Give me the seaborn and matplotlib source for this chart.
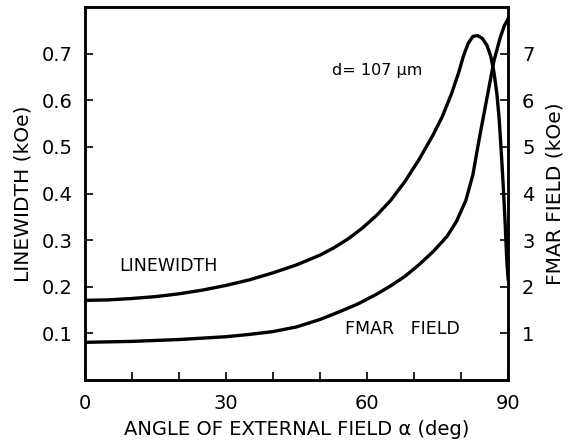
import numpy as np
import pandas as pd
import matplotlib
matplotlib.use("Agg")
import matplotlib.pyplot as plt
import seaborn as sns

# Linewidth (kOe, left axis) vs angle (deg)
lw_angle = [0, 5, 10, 15, 20, 25, 30, 35, 40, 45, 50, 53, 56, 59, 62, 65, 68, 71, 74, 76,
            78, 79.5, 80.5, 81.5, 82.5, 83.5, 84.5, 85.5, 86.3, 87.0, 87.6, 88.1, 88.6,
            89.0, 89.4, 89.7, 90]
lw_value = [0.171, 0.172, 0.175, 0.179, 0.185, 0.193, 0.203, 0.215, 0.230, 0.247, 0.268,
            0.284, 0.303, 0.326, 0.353, 0.385, 0.425, 0.472, 0.525, 0.565, 0.615, 0.660,
            0.695, 0.722, 0.737, 0.739, 0.733, 0.718, 0.695, 0.660, 0.615, 0.560, 0.480,
            0.410, 0.330, 0.260, 0.215]

# FMAR field (kOe, right axis) vs angle (deg)
fm_angle = [0, 10, 20, 30, 35, 40, 45, 50, 54, 58, 62, 65, 68, 71, 74, 77, 79, 81, 82.5,
            84, 85.5, 87, 88.3, 89.2, 90]
fm_value = [0.81, 0.83, 0.87, 0.93, 0.98, 1.04, 1.14, 1.30, 1.46, 1.63, 1.84, 2.02, 2.22,
            2.47, 2.75, 3.08, 3.40, 3.85, 4.40, 5.25, 6.05, 6.85, 7.34, 7.60, 7.75]

x_ticks = [0, 30, 60, 90]
left_ticks = [0.1, 0.2, 0.3, 0.4, 0.5, 0.6, 0.7]
left_labels = ["0.1", "0.2", "0.3", "0.4", "0.5", "0.6", "0.7"]
right_ticks = [1, 2, 3, 4, 5, 6, 7]
right_labels = ["1", "2", "3", "4", "5", "6", "7"]

sns.set_style("ticks")
plt.rcParams['font.family'] = ['DejaVu Sans']
plt.rcParams['text.color'] = 'black'
plt.rcParams['axes.labelcolor'] = 'black'

fig = plt.figure(figsize=(5.69, 4.43), dpi=100)
ax = fig.add_axes([0.149, 0.142, 0.744, 0.842])
ax2 = ax.twinx()

lw_df = pd.DataFrame({"angle": lw_angle, "lw": lw_value})
fm_df = pd.DataFrame({"angle": fm_angle, "fm": fm_value})

sns.lineplot(data=lw_df, x="angle", y="lw", ax=ax, color="black", linewidth=2.4,
             sort=False, estimator=None)
sns.lineplot(data=fm_df, x="angle", y="fm", ax=ax2, color="black", linewidth=2.4,
             sort=False, estimator=None)

ax.set_xlim(0, 90)
ax.set_ylim(0, 0.80)
ax2.set_ylim(0, 8.0)

ax.set_xticks(list(range(0, 91, 10)))
ax.set_xticklabels([str(t) if t in x_ticks else "" for t in range(0, 91, 10)], fontsize=14)
ax.set_yticks(left_ticks)
ax.set_yticklabels(left_labels, fontsize=14)
ax2.set_yticks(right_ticks)
ax2.set_yticklabels(right_labels, fontsize=14)

for a in (ax, ax2):
    a.tick_params(direction="in", length=6, width=1.2, colors="black", labelcolor="black")
    for s in a.spines.values():
        s.set_linewidth(1.8)
        s.set_color("black")
ax.tick_params(axis="x", pad=10)
ax.tick_params(axis="y", pad=9)
ax2.tick_params(axis="y", pad=10)

ax.set_xlabel("ANGLE OF EXTERNAL FIELD \u03b1 (deg)", fontsize=14, labelpad=5, color="black")
ax.set_ylabel("LINEWIDTH (kOe)", fontsize=14.5, labelpad=6, color="black")
ax2.set_ylabel("FMAR FIELD (kOe)", fontsize=14.5, labelpad=8, color="black")

ax.text(52.5, 0.663, "d= 107 \u03bcm", fontsize=11.5, va="center", ha="left", color="black")
ax.text(7.4, 0.245, "LINEWIDTH", fontsize=12.5, va="center", ha="left", color="black")
ax.text(55.3, 0.110, "FMAR   FIELD", fontsize=12.5, va="center", ha="left", color="black")

fig.savefig("out.png", dpi=100)
